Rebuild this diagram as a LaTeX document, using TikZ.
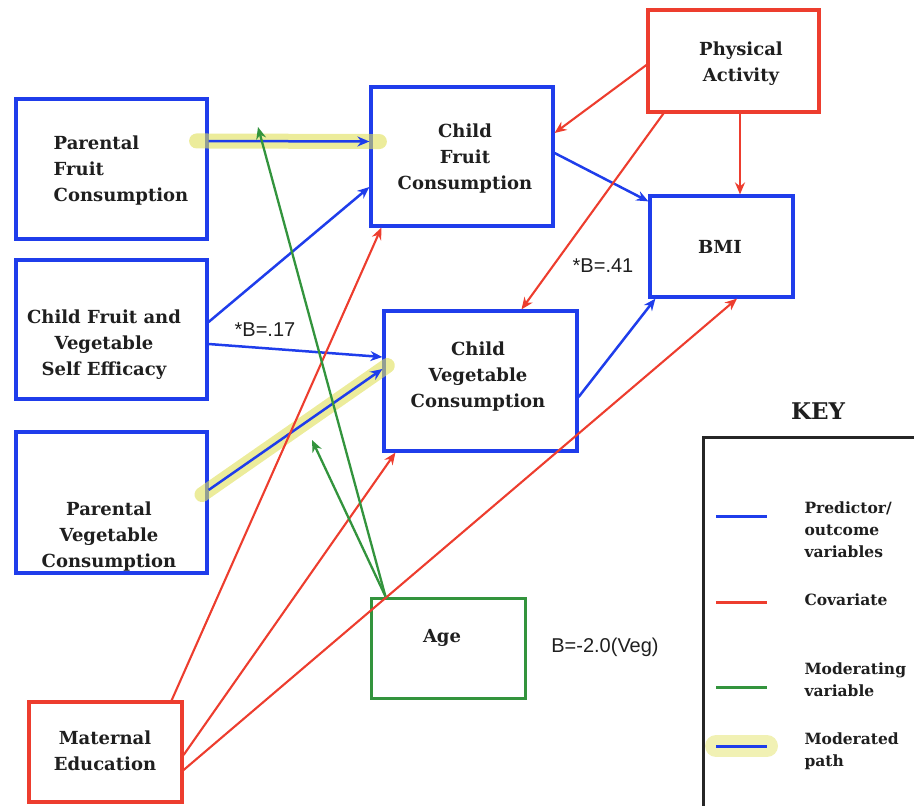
\documentclass[tikz,border=0pt]{standalone}
\usepackage{fontspec}
\setmainfont{DejaVu Serif}
\setsansfont{Liberation Sans}
\usetikzlibrary{arrows.meta}
\definecolor{PredClr}{rgb}{0.12,0.24,0.92}
\definecolor{CovClr}{rgb}{0.93,0.24,0.18}
\definecolor{ModClr}{rgb}{0.2,0.58,0.24}
\definecolor{GlowClr}{rgb}{0.88,0.88,0.35}
\definecolor{TxtClr}{rgb}{0.12,0.12,0.12}

\begin{document}
\begin{tikzpicture}[x=1pt,y=-1pt,
  predbox/.style={draw=PredClr,line width=3.2pt,inner sep=0pt},
  covbox/.style={draw=CovClr,line width=3.2pt,inner sep=0pt},
  modbox/.style={draw=ModClr,line width=3pt,inner sep=0pt},
  boxtxt/.style={text=TxtClr,font=\fontsize{18}{26}\selectfont\bfseries,align=center},
  coef/.style={text=TxtClr,font=\sffamily\fontsize{20}{24}\selectfont},
  pred/.style={draw=PredClr,line width=2.5pt,-{Stealth[length=12pt,width=10pt]}},
  cov/.style={draw=CovClr,line width=2.1pt,-{Stealth[length=12pt,width=10pt]}},
  mod/.style={draw=ModClr,line width=2.3pt,-{Stealth[length=12pt,width=10pt]}},
  glow/.style={draw=GlowClr,line width=15pt,opacity=0.6,line cap=round},
  keytxt/.style={text=TxtClr,font=\fontsize{15.5}{22}\selectfont\bfseries,align=left,anchor=west}]
\useasboundingbox (0,0) rectangle (914,806);

\node[predbox,minimum width=191pt,minimum height=140pt] (pfc) at (111.5,169) {};
\node[predbox,minimum width=191pt,minimum height=139pt] (cse) at (111.5,329.5) {};
\node[predbox,minimum width=191pt,minimum height=141pt] (pvc) at (111.5,502.5) {};
\node[predbox,minimum width=182pt,minimum height=139pt] (cfc) at (462,156.5) {};
\node[predbox,minimum width=193pt,minimum height=140pt] (cvc) at (480.5,381) {};
\node[predbox,minimum width=143pt,minimum height=101pt] (bmi) at (721.5,246.5) {};
\node[covbox,minimum width=171pt,minimum height=102pt] (pa) at (733.5,61) {};
\node[covbox,minimum width=153pt,minimum height=100pt] (me) at (105.5,752) {};
\node[modbox,minimum width=154pt,minimum height=100pt] (age) at (448,648) {};

\node[boxtxt,align=left] (pfctxt) at (121,171) {Parental\\Fruit\\Consumption};
\node[boxtxt] (csetxt) at (104,345) {Child Fruit and\\Vegetable\\Self Efficacy};
\node[boxtxt] (pvctxt) at (109,537) {Parental\\Vegetable\\Consumption};
\node[boxtxt] (cfctxt) at (465,159) {Child\\Fruit\\Consumption};
\node[boxtxt] (cvctxt) at (478,377) {Child\\Vegetable\\Consumption};
\node[boxtxt] (bmitxt) at (720,247) {BMI};
\node[boxtxt] (patxt) at (741,64) {Physical\\Activity};
\node[boxtxt] (metxt) at (105,751) {Maternal\\Education};
\node[boxtxt] (agetxt) at (442,638) {Age};

\node[coef] (b17) at (265,330) {*B=.17};
\node[coef] (b41) at (603,266) {*B=.41};
\node[coef] (bveg) at (605,647) {B=-2.0(Veg)};

\draw[glow,shorten <=-12pt,shorten >=-10pt] ([yshift=28pt]pfc.east) -- ([yshift=15pt]cfc.west);
\draw[glow,shorten <=-8pt,shorten >=-6pt] ([yshift=12.5pt]pvc.east) -- ([yshift=12pt]cvc.west);

\draw[pred] ([yshift=28pt]pfc.east) -- ([yshift=15pt]cfc.west);
\draw[pred] ([yshift=7.5pt]cse.east) -- ([yshift=-30.5pt]cfc.west);
\draw[pred] ([yshift=-14.5pt]cse.east) -- ([yshift=24pt]cvc.west);
\draw[pred] ([yshift=12.5pt]pvc.east) -- ([yshift=12pt]cvc.west);
\draw[pred] ([yshift=3.5pt]cfc.east) -- ([yshift=-7pt]bmi.north west);
\draw[pred] ([yshift=-16pt]cvc.east) -- ([xshift=7pt]bmi.south west);

\draw[cov] ([yshift=-4pt]pa.west) -- ([yshift=23.5pt]cfc.east);
\draw[cov] ([xshift=17pt]pa.south west) -- ([xshift=41pt]cvc.north);
\draw[cov] ([xshift=6.5pt]pa.south) -- ([xshift=18.5pt]bmi.north);
\draw[cov] ([xshift=-12pt]me.north east) -- ([xshift=12pt]cfc.south west);
\draw[cov] ([yshift=-3pt]me.east) -- ([xshift=13pt]cvc.south west);
\draw[cov] ([yshift=-18pt]me.east) -- ([xshift=15.5pt]bmi.south);

\coordinate (modfruit) at (258,127);
\coordinate (modveg) at (312,440);
\draw[mod] ([xshift=16pt]age.north west) -- (modfruit);
\draw[mod] ([xshift=16pt]age.north west) -- (modveg);

\node[text=TxtClr,font=\fontsize{23}{26}\selectfont\bfseries] (keytitle) at (818,411) {KEY};
\draw[draw=black!85,line width=3pt] (703,437) rectangle (918,810);
\node[keytxt] (kpredtxt) at (801,530) {Predictor/\\outcome\\variables};
\node[keytxt] (kcovtxt) at (801,600) {Covariate};
\node[keytxt] (kmodtxt) at (801,680) {Moderating\\variable};
\node[keytxt] (kmdptxt) at (801,751) {Moderated\\path};
\coordinate (kpred) at (716,516);
\coordinate (kcov) at (716,602);
\coordinate (kmod) at (716,687);
\coordinate (kmdp) at (716,746);
\draw[glow,line width=22pt,opacity=0.45] (kmdp) -- ++(51,0);
\draw[draw=PredClr,line width=3pt] (kpred) -- ++(51,0);
\draw[draw=CovClr,line width=3pt] (kcov) -- ++(51,0);
\draw[draw=ModClr,line width=3pt] (kmod) -- ++(51,0);
\draw[draw=PredClr,line width=3pt] (kmdp) -- ++(51,0);

\end{tikzpicture}
\end{document}
